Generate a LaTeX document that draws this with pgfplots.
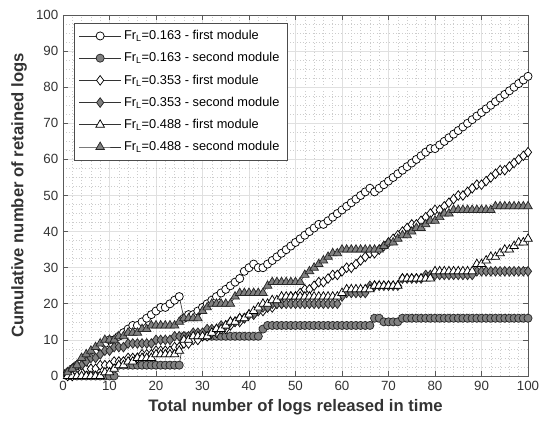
\documentclass[border=0pt]{standalone}
\usepackage{fontspec}
\setmainfont{Liberation Sans}
\usepackage{pgfplots}
\usepackage{pgfplotstable}
\pgfplotsset{compat=1.18}
\definecolor{mgray}{RGB}{128,128,128}
\pgfplotstableread{
x a b c d e f
1 1 0 0 1 0 1
2 2 0 0 2 0 2
3 3 0 1 3 0 3
4 4 0 1 3 0 5
5 5 0 2 4 0 6
6 6 0 2 5 0 7
7 7 0 2 5 0 8
8 8 0 3 6 0 9
9 9 0 3 7 1 10
10 10 0 3 7 1 10
11 10 0 4 8 2 10
12 11 3 4 8 3 11
13 12 3 4 8 3 11
14 13 3 5 9 4 12
15 14 3 5 9 4 12
16 14 3 5 9 5 12
17 15 3 6 9 5 13
18 16 3 6 9 5 13
19 17 3 6 9 5 14
20 18 3 7 10 6 14
21 19 3 7 10 6 14
22 19 3 7 10 6 14
23 20 3 7 10 6 14
24 21 3 8 11 6 14
25 22 3 8 11 7 15
26 16 11 9 11 10 16
27 17 11 9 11 10 16
28 17 11 10 12 11 16
29 18 11 10 12 11 16
30 19 11 11 12 11 18
31 20 11 11 13 11 19
32 21 11 12 13 12 20
33 22 11 12 13 13 20
34 23 11 13 14 13 20
35 24 11 13 14 14 20
36 25 11 14 15 15 20
37 26 11 15 15 15 22
38 27 11 15 16 16 23
39 29 11 16 16 16 23
40 30 11 17 17 17 23
41 31 11 17 17 18 23
42 30 11 18 18 19 23
43 30 13 18 19 20 23
44 31 14 19 19 20 25
45 32 14 19 20 21 26
46 33 14 20 20 21 26
47 34 14 20 20 22 26
48 35 14 21 20 22 26
49 36 14 22 20 22 26
50 37 14 22 20 22 26
51 38 14 23 20 22 26
52 39 14 24 20 22 28
53 40 14 24 20 22 29
54 41 14 25 20 22 30
55 42 14 26 20 22 31
56 42 14 26 20 22 32
57 43 14 27 20 22 33
58 44 14 28 20 22 34
59 45 14 28 20 22 34
60 46 14 29 22 23 35
61 47 14 30 23 24 35
62 48 14 30 23 24 35
63 49 14 31 23 24 35
64 50 14 32 23 24 35
65 51 14 33 23 24 35
66 52 14 34 25 24 35
67 51 16 34 25 25 35
68 52 16 35 25 25 35
69 53 15 36 25 25 36
70 54 15 37 25 25 37
71 55 15 38 25 25 37
72 56 15 39 25 25 38
73 57 16 40 27 27 39
74 58 16 41 27 27 39
75 59 16 42 27 27 40
76 60 16 42 27 27 41
77 61 16 43 27 27 41
78 62 16 44 28 27 42
79 63 16 45 28 27 43
80 63 16 46 28 29 43
81 64 16 46 28 29 44
82 65 16 47 28 29 45
83 66 16 48 28 29 45
84 67 16 49 28 29 46
85 68 16 50 28 29 46
86 69 16 50 28 29 46
87 70 16 51 28 29 46
88 71 16 52 28 29 46
89 72 16 53 29 31 46
90 73 16 53 29 31 46
91 74 16 54 29 32 46
92 75 16 55 29 33 46
93 76 16 56 29 33 47
94 77 16 57 29 34 47
95 78 16 57 29 35 47
96 79 16 58 29 35 47
97 80 16 59 29 36 47
98 81 16 60 29 37 47
99 82 16 61 29 37 47
100 83 16 62 29 38 47
}\data
\begin{document}
\begin{tikzpicture}
\begin{axis}[
  scale only axis,
  width=348.75pt, height=270.75pt,
  xmin=0, xmax=100, ymin=0, ymax=100,
  xtick={0,10,...,100}, ytick={0,10,...,100},
  minor x tick num=4, minor y tick num=3,
  grid=both,
  major grid style={draw=black!12, line width=0.5pt},
  minor grid style={draw=black!20, dotted, line width=0.35pt},
  minor tick length=0pt, major tick length=4pt,
  tick align=inside,
  axis line style={draw=black!65, line width=0.5pt},
  major tick style={draw=black!65, line width=0.5pt},
  /pgf/number format/assume math mode=true,
  tick label style={font=\fontsize{10}{12}\selectfont, text=black!80},
  label style={font=\fontsize{12.5}{14}\selectfont\bfseries, text=black!80},
  xlabel={Total number of logs released in time},
  ylabel={Cumulative number of retained logs},
  legend style={at={(0.0237,0.9786)}, anchor=north west,
    font=\fontsize{9.6}{11}\selectfont, draw=black!70, fill=white,
    row sep=4.2pt, inner sep=3.5pt, cells={anchor=west}},
  legend image code/.code={\draw[mark repeat=2,mark phase=2,#1] plot coordinates {(0cm,0cm)(0.55cm,0cm)(1.1cm,0cm)};},
]
\addplot[black!80, line width=0.5pt, mark=*, mark size=3.05pt, mark options={fill=white, draw=black, solid, line width=0.55pt}] table[x=x,y=a]{\data};
\addlegendentry{Fr\textsubscript{L}=0.163 - first module}
\addplot[black!80, line width=0.5pt, mark=*, mark size=3.05pt, mark options={fill=mgray, draw=black!85, solid, line width=0.55pt}] table[x=x,y=b]{\data};
\addlegendentry{Fr\textsubscript{L}=0.163 - second module}
\addplot[black!80, line width=0.5pt, mark=diamond*, mark size=3.6pt, mark options={fill=white, draw=black, solid, line width=0.55pt}] table[x=x,y=c]{\data};
\addlegendentry{Fr\textsubscript{L}=0.353 - first module}
\addplot[black!80, line width=0.5pt, mark=diamond*, mark size=3.6pt, mark options={fill=mgray, draw=black!85, solid, line width=0.55pt}] table[x=x,y=d]{\data};
\addlegendentry{Fr\textsubscript{L}=0.353 - second module}
\addplot[black!80, line width=0.5pt, mark=triangle*, mark size=3.7pt, mark options={fill=white, draw=black, solid, line width=0.55pt}] table[x=x,y=e]{\data};
\addlegendentry{Fr\textsubscript{L}=0.488 - first module}
\addplot[black!80, line width=0.5pt, mark=triangle*, mark size=3.7pt, mark options={fill=mgray, draw=black!85, solid, line width=0.55pt}] table[x=x,y=f]{\data};
\addlegendentry{Fr\textsubscript{L}=0.488 - second module}
\end{axis}
\pgfresetboundingbox
\path (current axis.south west)+(-47.25pt,-40.5pt) rectangle ([xshift=8.25pt,yshift=11.25pt]current axis.north east);
\end{tikzpicture}
\end{document}
